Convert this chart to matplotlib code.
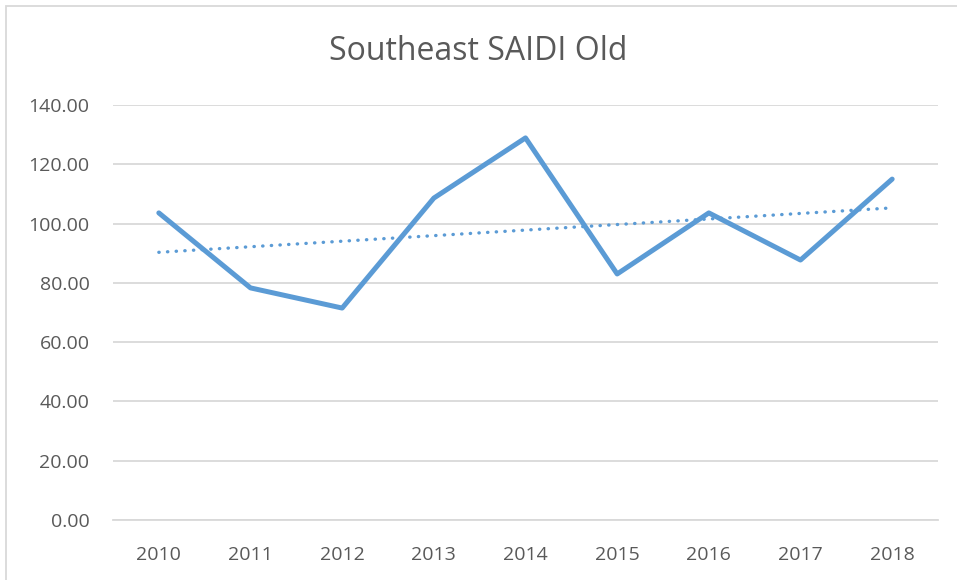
import matplotlib.pyplot as plt
import numpy as np
from matplotlib.patches import Rectangle

years = ['2010', '2011', '2012', '2013', '2014', '2015', '2016', '2017', '2018']
saidi = [103.6, 78.3, 71.5, 108.6, 128.9, 83.0, 103.6, 87.7, 115.0]
yticks = [0, 20, 40, 60, 80, 100, 120, 140]

plt.rcParams['font.family'] = ['Open Sans', 'DejaVu Sans']

fig = plt.figure(figsize=(9.57, 5.8), dpi=100)
ax = fig.add_axes([113/957, 1 - 520/580, 825/957, 415/580])

x = np.arange(len(years))
ax.plot(x, saidi, color='#5B9BD5', lw=3.6, solid_joinstyle='round', solid_capstyle='round', zorder=3)

# linear trendline
k, b = np.polyfit(x, saidi, 1)
ax.plot(x, k*x + b, color='#5B9BD5', lw=2.4, linestyle=(0, (0.1, 2.5)),
        dash_capstyle='round', zorder=2)

ax.set_xlim(-0.5, len(years) - 0.5)
ax.set_ylim(0, 140)
ax.set_yticks(yticks)
ax.set_yticklabels(['%.2f' % v for v in yticks])
ax.set_xticks(x)
ax.set_xticklabels(years)
ax.tick_params(length=0, labelsize=14, colors='#595959')
ax.tick_params(axis='x', pad=19)
ax.tick_params(axis='y', pad=17)
ax.grid(axis='y', color='#d9d9d9', lw=1.3)
ax.set_axisbelow(True)
for s in ['top', 'right', 'left']:
    ax.spines[s].set_visible(False)
ax.spines['bottom'].set_color('#d9d9d9')
ax.spines['bottom'].set_linewidth(1.3)

fig.text(0.5, 1 - 51/580, 'Southeast SAIDI Old', ha='center', va='center',
         fontsize=23, color='#595959')

fig.patches.append(Rectangle((6/957, -0.1), 2, 1.1 - 6/580, transform=fig.transFigure,
                             fill=False, edgecolor='#d9d9d9', lw=1.3))

fig.savefig('out.png', dpi=100)
